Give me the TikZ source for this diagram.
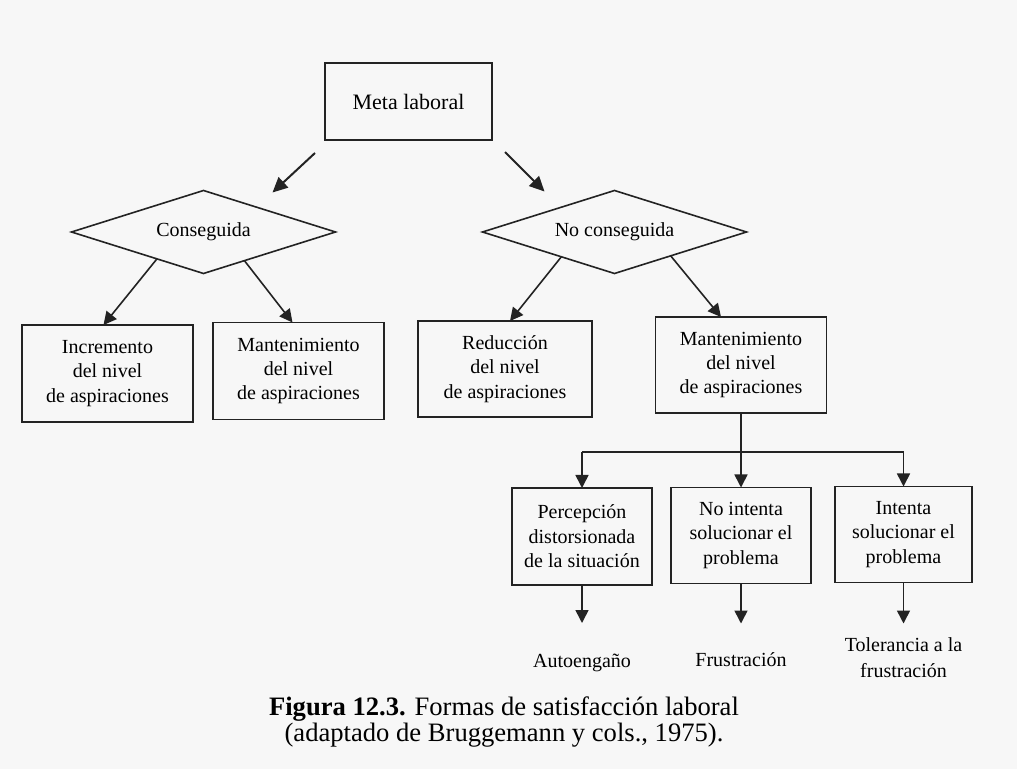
\documentclass[tikz,border=0pt]{standalone}
\usepackage{fontspec}
\setmainfont{Liberation Serif}
\usetikzlibrary{arrows.meta,positioning,calc,shapes.geometric}
\definecolor{paper}{RGB}{247,247,247}
\definecolor{ink}{RGB}{35,35,35}

\begin{document}
\begin{tikzpicture}[
    x=0.5pt, y=-0.5pt,
    box/.style={draw=ink, thick, align=center, outer sep=0pt, minimum width=85.5pt, minimum height=48.5pt, font=\fontsize{10}{12.2}\selectfont},
    smallbox/.style={box, minimum width=70pt, minimum height=48pt},
    choice/.style={diamond, draw=ink, thick, aspect=3.2, inner sep=1pt, outer sep=0pt, minimum width=132pt, minimum height=41.5pt, font=\fontsize{10}{12}\selectfont},
    lbl/.style={align=center, font=\fontsize{10}{13.3}\selectfont},
    >={Triangle[length=6.5pt,width=6.5pt]}
]
  \fill[paper] (0,0) rectangle (1017,769);
  \useasboundingbox (0,0) rectangle (1017,769);

  % top
  \node[box, minimum width=83.5pt, minimum height=38.5pt, font=\fontsize{11}{13}\selectfont] (meta) at (408.5,101.5) {Meta laboral};
  \node[choice] (cons) at (203.5,232) {Conseguida};
  \node[choice] (nocons) at (614.5,232) {No conseguida};

  % second row
  \node[box] (incr) at (107.5,373.5) {Incremento\\del nivel\\de aspiraciones};
  \node[box] (mant1) at (298.5,371) {Mantenimiento\\del nivel\\de aspiraciones};
  \node[box, minimum width=87pt, minimum height=48pt] (reduc) at (505,369) {Reducción\\del nivel\\de aspiraciones};
  \node[box, minimum height=48pt] (mant2) at (741,365) {Mantenimiento\\del nivel\\de aspiraciones};

  % third row
  \node[smallbox, minimum height=48.5pt] (perc) at (582,536.5) {Percepción\\distorsionada\\de la situación};
  \node[smallbox] (nointenta) at (741,535.5) {No intenta\\solucionar el\\problema};
  \node[smallbox, minimum width=68.5pt] (intenta) at (903.5,534.5) {Intenta\\solucionar el\\problema};

  \coordinate (split) at ($(mant2.south)+(0,39)$);
  \coordinate (tipa) at ($(perc.south)+(0,38)$);
  \coordinate (tipb) at ($(nointenta.south)+(0,40)$);
  \coordinate (tipc) at ($(intenta.south)+(0,41)$);

  \node[lbl] (autoeng) at ($(tipa)+(0,40)$) {Autoengaño};
  \node[lbl] (frustr) at ($(tipb)+(0,36)$) {Frustración};
  \node[lbl] (toler) at ($(tipc)+(0,34)$) {Tolerancia a la\\frustración};

  \node[align=center, font=\fontsize{13.3}{13}\selectfont] (caption) at (504,722)
    {\textbf{Figura 12.3.} Formas de satisfacción laboral\\(adaptado de Bruggemann y cols., 1975).};

  \draw[-{Triangle[length=7.5pt,width=7pt]}, line width=1pt, ink] ([shift={(-10,13)}]meta.south west) -- ([shift={(69,2)}]cons.north);
  \draw[-{Triangle[length=7.5pt,width=7pt]}, line width=1pt, ink] ([shift={(13,12)}]meta.south east) -- ([shift={(-70,1)}]nocons.north);
  \draw[->, thick, ink] (cons.210) -- ([xshift=-2pt]incr.north);
  \draw[->, thick, ink] (cons.-35) -- ([xshift=-3pt]mant1.north);
  \draw[->, thick, ink] (nocons.205) -- ([xshift=2.5pt]reduc.north);
  \draw[->, thick, ink] (nocons.-23) -- ([xshift=-10pt]mant2.north);

  \draw[thick, ink] (mant2.south) -- (split);
  \draw[thick, ink] (split -| perc.north) -- (split -| intenta.north);
  \draw[->, thick, ink] (split -| perc.north) -- (perc.north);
  \draw[->, thick, ink] (split) -- (nointenta.north);
  \draw[->, thick, ink] (split -| intenta.north) -- (intenta.north);

  \draw[->, thick, ink] (perc.south) -- (tipa);
  \draw[->, thick, ink] (nointenta.south) -- (tipb);
  \draw[->, thick, ink] (intenta.south) -- (tipc);
\end{tikzpicture}
\end{document}
